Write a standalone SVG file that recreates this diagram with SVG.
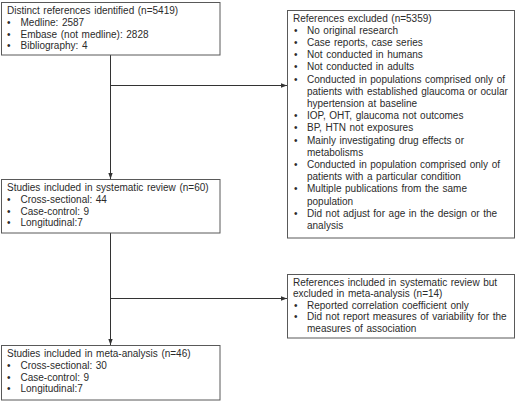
<svg xmlns="http://www.w3.org/2000/svg" width="517" height="402" viewBox="0 0 517 402">
<defs>
<marker id="ah" viewBox="0 0 6 6" refX="6" refY="3" markerWidth="6" markerHeight="6" markerUnits="userSpaceOnUse" orient="auto">
<path d="M0,0.8 L6,3 L0,5.2 Z" fill="#333"/>
</marker>
<style>
.box{fill:#fff;stroke:#595959;stroke-width:1}
.t{font-family:"Liberation Sans",Arial,sans-serif;font-size:10px;fill:#2b2b2b;word-spacing:0.8px}
.c{fill:none;stroke:#333;stroke-width:1}
</style>
</defs>
<rect width="517" height="402" fill="#fff"/>
<g id="connectors">
<line class="c" x1="110.5" y1="55" x2="110.5" y2="179" marker-end="url(#ah)"/>
<line class="c" x1="110.5" y1="85.5" x2="287" y2="85.5" marker-end="url(#ah)"/>
<line class="c" x1="110.5" y1="233" x2="110.5" y2="345" marker-end="url(#ah)"/>
<line class="c" x1="110.5" y1="298.5" x2="287" y2="298.5" marker-end="url(#ah)"/>
</g>
<g id="identified">
<rect class="box" x="1.5" y="2.5" width="218.5" height="52.5"/>
<text class="t" x="7" y="14">Distinct references identified (n=5419)</text>
<text class="t" x="7" y="25.8">•</text><text class="t" x="20.5" y="25.8">Medline: 2587</text>
<text class="t" x="7" y="37.6">•</text><text class="t" x="20.5" y="37.6">Embase (not medline): 2828</text>
<text class="t" x="7" y="49.4">•</text><text class="t" x="20.5" y="49.4">Bibliography: 4</text>
</g>
<g id="excluded">
<rect class="box" x="287.5" y="10.5" width="227" height="227.5"/>
<text class="t" x="293" y="21.5">References excluded (n=5359)</text>
<text class="t" x="294" y="33.7">•</text><text class="t" x="307" y="33.7">No original research</text>
<text class="t" x="294" y="45.9">•</text><text class="t" x="307" y="45.9">Case reports, case series</text>
<text class="t" x="294" y="58.1">•</text><text class="t" x="307" y="58.1">Not conducted in humans</text>
<text class="t" x="294" y="70.3">•</text><text class="t" x="307" y="70.3">Not conducted in adults</text>
<text class="t" x="294" y="82.5">•</text><text class="t" x="307" y="82.5">Conducted in populations comprised only of</text>
<text class="t" x="307" y="94.7">patients with established glaucoma or ocular</text>
<text class="t" x="307" y="106.9">hypertension at baseline</text>
<text class="t" x="294" y="119.1">•</text><text class="t" x="307" y="119.1">IOP, OHT, glaucoma not outcomes</text>
<text class="t" x="294" y="131.3">•</text><text class="t" x="307" y="131.3">BP, HTN not exposures</text>
<text class="t" x="294" y="143.5">•</text><text class="t" x="307" y="143.5">Mainly investigating drug effects or</text>
<text class="t" x="307" y="155.7">metabolisms</text>
<text class="t" x="294" y="167.9">•</text><text class="t" x="307" y="167.9">Conducted in population comprised only of</text>
<text class="t" x="307" y="180.1">patients with a particular condition</text>
<text class="t" x="294" y="192.3">•</text><text class="t" x="307" y="192.3">Multiple publications from the same</text>
<text class="t" x="307" y="204.5">population</text>
<text class="t" x="294" y="216.7">•</text><text class="t" x="307" y="216.7">Did not adjust for age in the design or the</text>
<text class="t" x="307" y="228.9">analysis</text>
</g>
<g id="systematic">
<rect class="box" x="1.5" y="179.5" width="218.5" height="53.5"/>
<text class="t" x="7" y="191">Studies included in systematic review (n=60)</text>
<text class="t" x="7" y="202.8">•</text><text class="t" x="20.5" y="202.8">Cross-sectional: 44</text>
<text class="t" x="7" y="214.6">•</text><text class="t" x="20.5" y="214.6">Case-control: 9</text>
<text class="t" x="7" y="226.4">•</text><text class="t" x="20.5" y="226.4">Longitudinal:7</text>
</g>
<g id="excludedmeta">
<rect class="box" x="287.5" y="274.5" width="227" height="63.5"/>
<text class="t" x="293" y="285.5">References included in systematic review but</text>
<text class="t" x="293" y="297">excluded in meta-analysis (n=14)</text>
<text class="t" x="294" y="308.5">•</text><text class="t" x="307" y="308.5">Reported correlation coefficient only</text>
<text class="t" x="294" y="320">•</text><text class="t" x="307" y="320">Did not report measures of variability for the</text>
<text class="t" x="307" y="331.5">measures of association</text>
</g>
<g id="meta">
<rect class="box" x="1.5" y="345.5" width="218.5" height="54.5"/>
<text class="t" x="7" y="357">Studies included in meta-analysis (n=46)</text>
<text class="t" x="7" y="368.8">•</text><text class="t" x="20.5" y="368.8">Cross-sectional: 30</text>
<text class="t" x="7" y="380.6">•</text><text class="t" x="20.5" y="380.6">Case-control: 9</text>
<text class="t" x="7" y="392.4">•</text><text class="t" x="20.5" y="392.4">Longitudinal:7</text>
</g>
</svg>
